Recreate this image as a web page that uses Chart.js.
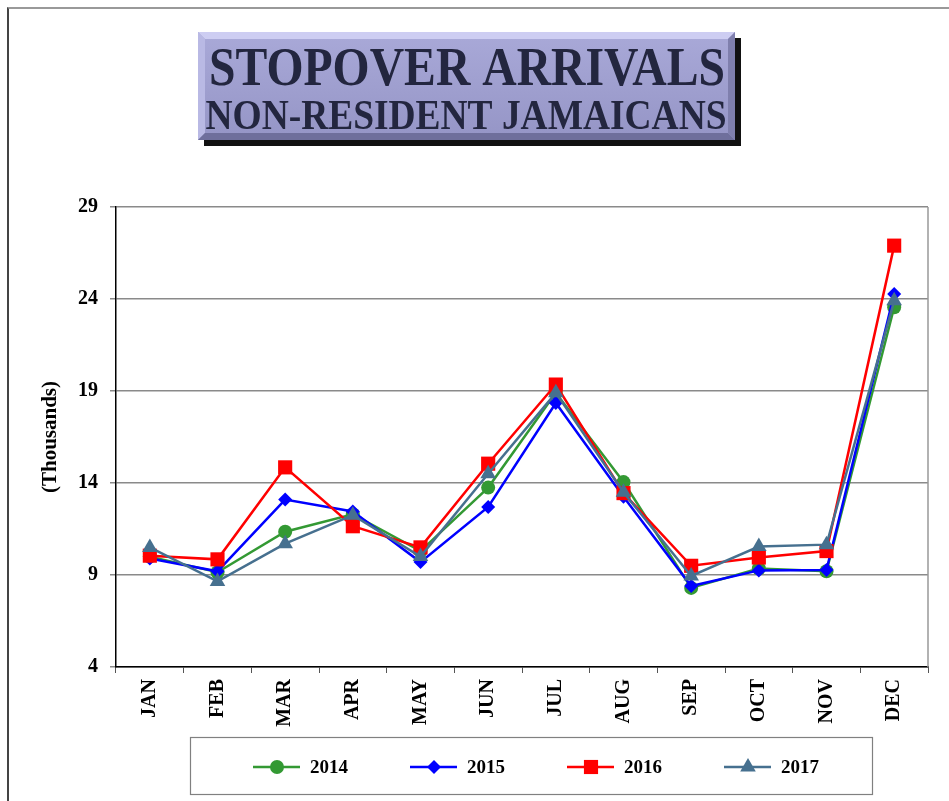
<!DOCTYPE html>
<html>
<head>
<meta charset="utf-8">
<script src="https://cdn.jsdelivr.net/npm/chart.js"></script>
<style>
  html, body { margin: 0; padding: 0; background: #fff; }
  #wrap { position: relative; width: 949px; height: 801px; overflow: hidden; }
  #frame { position: absolute; left: 7px; top: 7px; width: 960px; height: 820px;
           border-left: 2px solid #444; border-top: 2px solid #999; pointer-events: none; }
  canvas { position: absolute; left: 0; top: 0; }
</style>
</head>
<body>
<div id="wrap">
  <canvas id="arrivals" width="949" height="801"></canvas>
  <div id="frame"></div>
</div>
<script>
const months = ['JAN', 'FEB', 'MAR', 'APR', 'MAY', 'JUN', 'JUL', 'AUG', 'SEP', 'OCT', 'NOV', 'DEC'];
const years = ['2014', '2015', '2016', '2017'];
const arrivals2014 = [10.0, 9.15, 11.35, 12.3, 10.3, 13.75, 18.9, 14.05, 8.3, 9.35, 9.2, 23.55];
const arrivals2015 = [9.9, 9.2, 13.1, 12.45, 9.7, 12.7, 18.35, 13.25, 8.4, 9.25, 9.27, 24.27];
const arrivals2016 = [10.05, 9.85, 14.85, 11.65, 10.5, 15.05, 19.35, 13.45, 9.5, 9.95, 10.3, 26.9];
const arrivals2017 = [10.5, 8.65, 10.7, 12.25, 10.0, 14.5, 18.9, 13.5, 8.95, 10.55, 10.65, 23.9];
const yTicks = [4, 9, 14, 19, 24, 29];

const colors = ['#339933', '#0000ff', '#ff0000', '#46708f'];
const styles = ['circle', 'rectRot', 'rect', 'triangle'];
const radii = [7, 7, 10, 9];
const serif = "'Liberation Serif', 'Times New Roman', serif";

function marker(ctx, style, x, y, r, color) {
    ctx.fillStyle = color;
    ctx.beginPath();
    if (style === 'circle') {
        ctx.arc(x, y, r, 0, Math.PI * 2);
    } else if (style === 'rectRot') {
        ctx.moveTo(x, y - r); ctx.lineTo(x + r, y); ctx.lineTo(x, y + r); ctx.lineTo(x - r, y);
    } else if (style === 'rect') {
        const s = r * Math.SQRT1_2;
        ctx.rect(x - s, y - s, 2 * s, 2 * s);
    } else {
        const h = r * 1.5, w = r * Math.sqrt(3) / 2;
        ctx.moveTo(x, y - r); ctx.lineTo(x + w, y + h - r); ctx.lineTo(x - w, y + h - r);
    }
    ctx.closePath();
    ctx.fill();
}

// title box, legend box and right plot edge
const decorations = {
    id: 'decorations',
    beforeDraw(chart) {
        const ctx = chart.ctx;
        ctx.save();
        ctx.fillStyle = '#fff';
        ctx.fillRect(0, 0, chart.width, chart.height);
        ctx.restore();
    },
    afterDraw(chart) {
        const ctx = chart.ctx;
        const area = chart.chartArea;
        ctx.save();

        ctx.strokeStyle = '#999';
        ctx.lineWidth = 1.5;
        ctx.beginPath();
        ctx.moveTo(area.right, area.top);
        ctx.lineTo(area.right, area.bottom);
        ctx.stroke();

        // title
        const bx = 198, by = 32, bw = 537, bh = 108, b = 7;
        ctx.fillStyle = '#111';
        ctx.fillRect(bx + 6, by + 6, bw, bh);
        const g = ctx.createLinearGradient(0, by, 0, by + bh);
        g.addColorStop(0, '#a9a9d8');
        g.addColorStop(1, '#9595c6');
        ctx.fillStyle = g;
        ctx.fillRect(bx, by, bw, bh);
        const bevel = (pts, c) => {
            ctx.fillStyle = c;
            ctx.beginPath();
            ctx.moveTo(pts[0], pts[1]);
            for (let i = 2; i < pts.length; i += 2) ctx.lineTo(pts[i], pts[i + 1]);
            ctx.closePath();
            ctx.fill();
        };
        bevel([bx, by, bx + bw, by, bx + bw - b, by + b, bx + b, by + b], '#cdcdf2');
        bevel([bx, by, bx + b, by + b, bx + b, by + bh - b, bx, by + bh], '#b9b9e4');
        bevel([bx, by + bh, bx + b, by + bh - b, bx + bw - b, by + bh - b, bx + bw, by + bh], '#6f6f9c');
        bevel([bx + bw, by, bx + bw, by + bh, bx + bw - b, by + bh - b, bx + bw - b, by + b], '#7f7fad');
        ctx.fillStyle = '#23263f';
        ctx.textAlign = 'center';
        ctx.textBaseline = 'alphabetic';
        ctx.font = 'bold 54px ' + serif;
        ctx.fillText('STOPOVER ARRIVALS', 467, 85, 516);
        ctx.font = 'bold 42px ' + serif;
        ctx.fillText('NON-RESIDENT JAMAICANS', 466, 129, 521);

        // legend
        ctx.strokeStyle = '#808080';
        ctx.lineWidth = 1.2;
        ctx.strokeRect(190.5, 737.5, 682, 57);
        ctx.font = 'bold 19px ' + serif;
        ctx.textAlign = 'left';
        ctx.textBaseline = 'middle';
        chart.data.datasets.forEach((ds, i) => {
            const x = 253 + i * 157, y = 767;
            ctx.strokeStyle = ds.borderColor;
            ctx.lineWidth = 2.5;
            ctx.beginPath();
            ctx.moveTo(x, y);
            ctx.lineTo(x + 47, y);
            ctx.stroke();
            marker(ctx, ds.pointStyle, x + 24, y, ds.pointRadius, ds.borderColor);
            ctx.fillStyle = '#000';
            ctx.fillText(ds.label, x + 57, y + 1);
        });
        ctx.restore();
    }
};

const series = [arrivals2014, arrivals2015, arrivals2016, arrivals2017];
const datasets = series.map((values, i) => ({
    label: years[i],
    data: values,
    borderColor: colors[i],
    backgroundColor: colors[i],
    pointBackgroundColor: colors[i],
    pointBorderWidth: 0,
    pointStyle: styles[i],
    pointRadius: radii[i],
    borderWidth: 2.5,
    tension: 0,
    order: 4 - i
}));

const ctx = document.getElementById('arrivals').getContext('2d');
new Chart(ctx, {
    type: 'line',
    data: { labels: months, datasets: datasets },
    options: {
        responsive: false,
        animation: false,
        events: [],
        layout: { padding: { top: 207, right: 21, bottom: 0, left: 0 } },
        plugins: { legend: { display: false }, tooltip: { enabled: false } },
        scales: {
            x: {
                offset: true,
                grid: { display: true, offset: true, drawOnChartArea: false, tickLength: 6, color: '#555' },
                border: { color: '#000', width: 1.5 },
                ticks: {
                    color: '#000',
                    font: { family: serif, size: 20, weight: 'bold' },
                    minRotation: 90, maxRotation: 90, padding: 6
                },
                afterFit: scale => { scale.height = 134; }
            },
            y: {
                min: 4,
                max: 29,
                afterBuildTicks: scale => { scale.ticks = yTicks.map(v => ({ value: v })); },
                grid: { color: '#8a8a8a', lineWidth: 1.5, tickLength: 6 },
                border: { color: '#000', width: 1.5 },
                ticks: {
                    color: '#000',
                    font: { family: serif, size: 20, weight: 'bold' },
                    padding: 12
                },
                title: {
                    display: true,
                    text: '(Thousands)',
                    color: '#000',
                    font: { family: serif, size: 21, weight: 'bold' },
                    padding: { top: 38, bottom: 0 }
                },
                afterFit: scale => { scale.width = 116; }
            }
        }
    },
    plugins: [decorations]
});
</script>
</body>
</html>
